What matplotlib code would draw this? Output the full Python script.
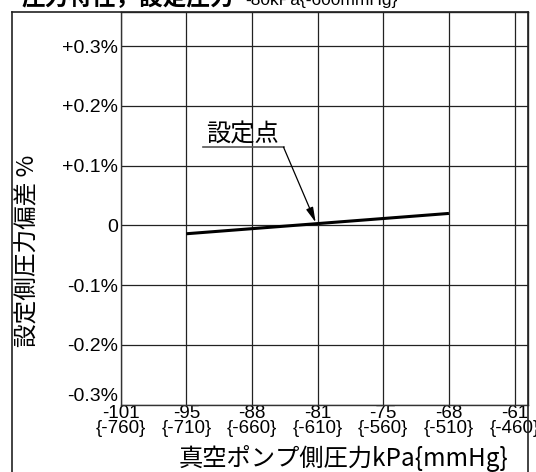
import numpy as np
import matplotlib
matplotlib.use('Agg')
import matplotlib.pyplot as plt
from matplotlib.lines import Line2D

# data: x in mmHg (ticks also show kPa), y = deviation in %
kpa_ticks = [-101, -95, -88, -81, -75, -68, -61]
mmhg_ticks = [-760, -710, -660, -610, -560, -510, -460]
y_ticks = [0.3, 0.2, 0.1, 0.0, -0.1, -0.2, -0.3]
y_labels = ['+0.3%', '+0.2%', '+0.1%', '0', '-0.1%', '-0.2%', '-0.3%']

line_x = [-710, -510]
line_y = [-0.014, 0.020]

set_x = -610
set_y = 0.003
label_x = -636
label_y = 0.131

cjk = ['Noto Sans CJK JP', 'DejaVu Sans']
lat = ['Liberation Sans', 'DejaVu Sans']

W, H = 536, 472
fig = plt.figure(figsize=(W / 100, H / 100), dpi=100)
ax = fig.add_axes([120.7 / W, 1 - 404.7 / H, (527.7 - 120.7) / W, (404.7 - 12) / H])

ax.plot(line_x, line_y, color='black', lw=2.2, solid_capstyle='butt', zorder=3)

ax.set_xlim(-760, -450)
ax.set_ylim(-0.3, 0.357)
ax.set_xticks(mmhg_ticks)
ax.set_xticklabels(['%d\n{%d}' % (k, m) for k, m in zip(kpa_ticks, mmhg_ticks)],
                   family=lat, fontsize=13.5, linespacing=0.82)
ax.set_yticks(y_ticks)
ax.set_yticklabels(y_labels, family=lat, fontsize=14)
ax.get_yticklabels()[-1].set_verticalalignment('bottom')
ax.tick_params(length=0, pad=2)
ax.tick_params(axis='x', pad=0.5)
ax.grid(True, color='#222222', lw=0.9)
for s in ax.spines.values():
    s.set_color('#333333')
    s.set_linewidth(1.0)

# set point label with underline and arrow
ax.text(label_x - 59, label_y + 0.01, '設定点', family=cjk, fontsize=17.5,
        ha='left', va='baseline')
ax.plot([label_x - 61.5, label_x], [label_y, label_y], color='#555555', lw=1.2,
        clip_on=False)
ax.annotate('', xy=(set_x - 1.5, set_y + 0.002), xytext=(label_x, label_y),
            arrowprops=dict(arrowstyle='-|>,head_length=0.9,head_width=0.22',
                            color='black', lw=0.9, shrinkA=0, shrinkB=0))

# outer frame
fx0, fx1, fy1 = 11.5 / W, 528 / W, 1 - 12 / H
for xs, ys in [([fx0, fx0], [-0.01, fy1]), ([fx0, fx1], [fy1, fy1]), ([fx1, fx1], [-0.01, fy1])]:
    fig.add_artist(Line2D(xs, ys, color='#222222', lw=1.2, transform=fig.transFigure))

fig.text(28 / W, 1 - 251 / H, '設定側圧力偏差 %', family=cjk, fontsize=17,
         rotation=90, ha='center', va='center')
fig.text(343 / W, 1 - 459 / H, '真空ポンプ側圧力kPa{mmHg}', family=cjk, fontsize=17.5,
         ha='center', va='center')

# title, top half cut off by the image edge
fig.text(22 / W, 1 - 5 / H, '圧力特性，設定圧力', family=cjk, fontsize=17,
         weight='bold', ha='left', va='baseline')
fig.text(245 / W, 1 - 5 / H, '-80kPa{-600mmHg}', family=lat, fontsize=12.5,
         ha='left', va='baseline')

fig.savefig('out.png', dpi=100)
